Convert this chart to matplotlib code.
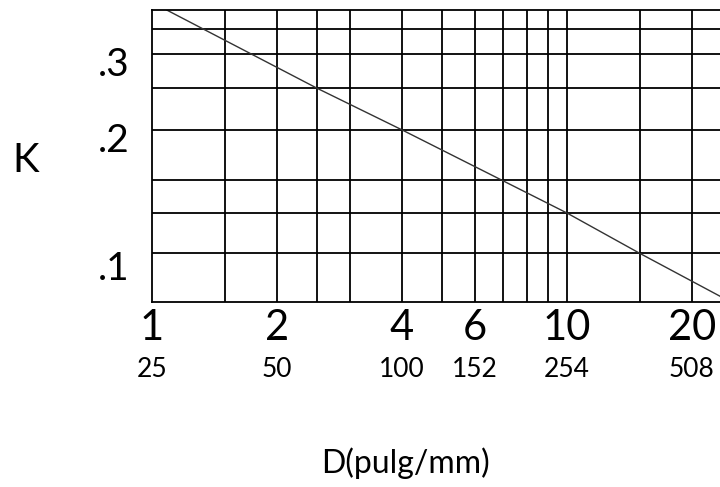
import matplotlib
matplotlib.use('Agg')
import matplotlib.pyplot as plt
import matplotlib.transforms as mtransforms

# valores
d_line = [1.085, 2.5, 4, 10, 15, 23.4]
k_line = [0.396, 0.26, 0.208, 0.133, 0.107, 0.085]

d_grid = [1.5, 2, 2.5, 3, 4, 5, 6, 7, 8, 9, 10, 15, 20]
k_grid = [0.107, 0.133, 0.159, 0.208, 0.26, 0.312, 0.357]

d_ticks = [1, 2, 4, 6, 10, 20]
pulg_labels = ['1', '2', '4', '6', '10', '20']
mm_labels = ['25', '50', '100', '152', '254', '508']
k_ticks = [0.1, 0.2, 0.3]
k_labels = ['.1', '.2', '.3']

plt.rcParams['font.family'] = ['Lato', 'DejaVu Sans']

fig = plt.figure(figsize=(7.2, 4.87), dpi=100)
ax = fig.add_axes([152/720, 1-302/487, 568/720, 292/487])
ax.set_xscale('log')
ax.set_yscale('log')
ax.set_xlim(1, 23.4)
ax.set_ylim(0.0824, 0.396)

for d in d_grid:
    ax.axvline(d, color='black', lw=1.3)
for k in k_grid:
    ax.axhline(k, color='black', lw=1.3)

ax.plot(d_line, k_line, color='#333333', lw=1.0)

for s in ['left', 'top', 'bottom']:
    ax.spines[s].set_linewidth(1.3)
ax.spines['right'].set_visible(False)

ax.set_xticks([])
ax.set_xticks([], minor=True)
ax.set_yticks(k_ticks, k_labels, fontsize=28)
ax.set_yticks([], minor=True)
ax.tick_params(axis='y', length=0, pad=16)

trans = mtransforms.blended_transform_factory(ax.transData, ax.transAxes)
for d, top, bot in zip(d_ticks, pulg_labels, mm_labels):
    ax.text(d, -0.1301, top, transform=trans, ha='center', va='baseline', fontsize=30)
    ax.text(d, -0.2568, bot, transform=trans, ha='center', va='baseline', fontsize=19)

fig.text(26/720, 1-172/487, 'K', ha='center', va='baseline', fontsize=29)
fig.text(405/720, 1-473/487, 'D(pulg/mm)', ha='center', va='baseline', fontsize=23)

fig.savefig('out.png', dpi=100)
